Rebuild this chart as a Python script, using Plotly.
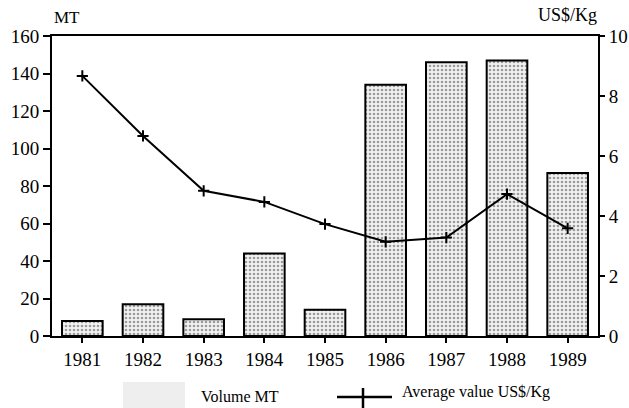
import plotly.graph_objects as go

years = ["1981", "1982", "1983", "1984", "1985", "1986", "1987", "1988", "1989"]
volume_mt = [8, 17, 9, 44, 14, 134, 146, 147, 87]
avg_value = [8.67, 6.67, 4.84, 4.47, 3.73, 3.14, 3.28, 4.73, 3.59]

FONT = "Liberation Serif"
W, H = 629, 408
L, R, T, B = 52, 31, 36, 72
pw, ph = W - L - R, H - T - B
def px(x): return (x - L) / pw
def py(y): return (H - B - y) / ph

def f(size):
    return dict(family=FONT, size=size, color="black")

fig = go.Figure()
fig.add_trace(go.Bar(
    x=years, y=volume_mt, name="Volume MT", width=0.67,
    marker=dict(color="#f2f2f2", line=dict(color="black", width=2),
                pattern=dict(shape=".", size=4, solidity=0.35, fgcolor="#444444", bgcolor="#f2f2f2")),
    showlegend=False,
))
fig.add_trace(go.Scatter(
    x=years, y=avg_value, name="Average value US$/Kg", yaxis="y2", mode="lines+markers",
    line=dict(color="black", width=2),
    marker=dict(symbol="cross-thin", size=8, line=dict(color="black", width=2)),
    showlegend=False,
))

def ann(text, x, y, size, xanchor):
    return dict(text=text, x=px(x), y=py(y), xref="paper", yref="paper", showarrow=False,
                font=f(size), xanchor=xanchor, yanchor="middle")

fig.update_layout(
    width=W, height=H,
    margin=dict(l=L, r=R, t=T, b=B, autoexpand=False),
    paper_bgcolor="white", plot_bgcolor="white",
    font=f(18),
    xaxis=dict(showline=True, linecolor="black", linewidth=2, mirror=True,
               ticks="outside", ticklen=5, tickwidth=1.5, tickcolor="black",
               showgrid=False, range=[-0.5, 8.5], tickfont=f(19), automargin=False),
    yaxis=dict(range=[0, 160], dtick=20, showline=True, linecolor="black", linewidth=2,
               ticks="outside", ticklen=7, tickwidth=1.5, tickcolor="black",
               showgrid=False, zeroline=False, tickfont=f(19), automargin=False),
    yaxis2=dict(range=[0, 10], dtick=2, overlaying="y", side="right",
                showline=True, linecolor="black", linewidth=2,
                ticks="outside", ticklen=5, tickwidth=1.5, tickcolor="black",
                showgrid=False, zeroline=False, tickfont=f(19), automargin=False),
    annotations=[
        ann("MT", 52, 18, 17, "left"),
        ann("US$/Kg", 567, 15, 18, "center"),
        ann("Volume MT", 199, 396, 16, "left"),
        ann("Average value US$/Kg", 400, 392, 16, "left"),
    ],
)

fig.add_shape(type="rect", xref="paper", yref="paper",
              x0=px(123), x1=px(185), y0=py(408), y1=py(382),
              fillcolor="#eeeeee", line=dict(width=0))
fig.add_shape(type="line", xref="paper", yref="paper",
              x0=px(337), x1=px(392), y0=py(397), y1=py(397),
              line=dict(color="black", width=2.5))
fig.add_shape(type="line", xref="paper", yref="paper",
              x0=px(363), x1=px(363), y0=py(388), y1=py(408),
              line=dict(color="black", width=2.5))

fig.write_html("out.html", config={"displayModeBar": False},
               post_script="document.body.style.margin='0';document.body.style.overflow='hidden';")
